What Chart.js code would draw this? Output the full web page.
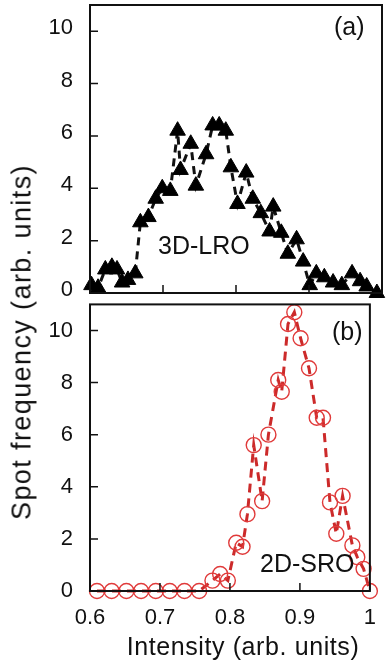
<!DOCTYPE html>
<html>
<head>
<meta charset="utf-8">
<script src="https://cdn.jsdelivr.net/npm/chart.js@4"></script>
<style>
  body { margin: 0; background: #fff; }
  #wrap { position: relative; width: 390px; height: 661px; font-family: "Liberation Sans", Arial, sans-serif; color: #111; }
  canvas { position: absolute; left: 0; }
  .lbl { position: absolute; font-size: 25px; white-space: nowrap; line-height: 1; }
  #ytitle { position: absolute; left: 22px; top: 342px; font-size: 27px; letter-spacing: 1.4px; white-space: nowrap;
            line-height: 1; transform: translate(-50%, -50%) rotate(-90deg); }
  #xtitle { position: absolute; left: 243px; top: 634px; font-size: 25px; letter-spacing: 0.6px; white-space: nowrap;
            line-height: 1; transform: translateX(-50%); }
</style>
</head>
<body>
<div id="wrap">
  <canvas id="chartA" width="390" height="300" style="top:0"></canvas>
  <canvas id="chartB" width="390" height="361" style="top:300px"></canvas>
  <div id="ytitle">Spot frequency (arb. units)</div>
  <div id="xtitle">Intensity (arb. units)</div>
  <div class="lbl" style="left:334px; top:14px;">(a)</div>
  <div class="lbl" style="left:158px; top:233px;">3D-LRO</div>
  <div class="lbl" style="left:332px; top:319px;">(b)</div>
  <div class="lbl" style="left:260px; top:551px;">2D-SRO</div>
</div>
<script>
// panel (a) 3D-LRO, black triangles
const lroX = [0.602, 0.611, 0.621, 0.630, 0.637, 0.644, 0.652, 0.662, 0.669, 0.680, 0.690, 0.699, 0.710, 0.720,
  0.724, 0.738, 0.745, 0.759, 0.768, 0.777, 0.786, 0.793, 0.802, 0.814, 0.823, 0.834, 0.846, 0.851, 0.862,
  0.871, 0.883, 0.892, 0.901, 0.910, 0.921, 0.933, 0.945, 0.959, 0.970, 0.979, 0.993];
const lroY = [0.3, 0.2, 0.9, 1.0, 0.9, 0.4, 0.5, 0.75, 2.7, 2.9, 3.6, 4.0, 3.9, 6.2,
  4.7, 5.7, 4.1, 5.3, 6.4, 6.4, 6.2, 4.8, 3.4, 4.6, 3.6, 3.05, 2.35, 3.3, 2.3,
  1.5, 2.05, 1.2, 0.3, 0.75, 0.6, 0.4, 0.3, 0.75, 0.45, 0.25, 0.0];

// panel (b) 2D-SRO, red open circles
const sroX = [0.610, 0.631, 0.652, 0.673, 0.694, 0.714, 0.735, 0.756, 0.775, 0.786, 0.797, 0.809, 0.818,
  0.825, 0.834, 0.846, 0.855, 0.869, 0.874, 0.883, 0.892, 0.901, 0.913, 0.924, 0.933, 0.943, 0.952,
  0.961, 0.975, 0.982, 0.991, 1.0];
const sroY = [0, 0, 0, 0, 0, 0, 0, 0, 0.4, 0.65, 0.4, 1.85, 1.7,
  2.95, 5.6, 3.45, 6.0, 8.1, 7.65, 10.25, 10.7, 9.7, 8.55, 6.65, 6.65, 3.4, 2.2,
  3.65, 1.75, 1.3, 0.85, 0];

const xTicks = [0.6, 0.7, 0.8, 0.9, 1.0];
const xTickLabels = ['0.6', '0.7', '0.8', '0.9', '1'];
const yTicks = [0, 2, 4, 6, 8, 10];

const FONT = "'Liberation Sans', Arial, sans-serif";

function toPoints(xs, ys) {
  return xs.map((x, i) => ({ x: x, y: ys[i] }));
}

// box frame + short inward tick marks
const framePlugin = {
  id: 'frame',
  afterDraw(chart) {
    const { ctx, chartArea: a, scales } = chart;
    ctx.save();
    ctx.strokeStyle = '#111';
    ctx.lineWidth = 2;
    ctx.strokeRect(a.left, a.top, a.right - a.left, a.bottom - a.top);
    ctx.lineWidth = 1.5;
    ctx.beginPath();
    yTicks.forEach(v => {
      const y = scales.y.getPixelForValue(v);
      ctx.moveTo(a.left, y);
      ctx.lineTo(a.left + 8, y);
    });
    xTicks.forEach(v => {
      const x = scales.x.getPixelForValue(v);
      ctx.moveTo(x, a.bottom);
      ctx.lineTo(x, a.bottom - 8);
    });
    ctx.stroke();
    ctx.restore();
  }
};

function makeOptions(showX, padTop, xHeight, yLabelShift) {
  return {
    responsive: false,
    animation: false,
    layout: { autoPadding: false, padding: { top: padTop, right: 8, left: 0, bottom: 0 } },
    plugins: { legend: { display: false }, tooltip: { enabled: false } },
    scales: {
      x: {
        type: 'linear',
        min: 0.6,
        max: 1.0,
        afterBuildTicks: s => { s.ticks = xTicks.map(v => ({ value: v })); },
        afterFit: s => { s.height = xHeight; },
        border: { display: false },
        grid: { display: false, drawTicks: false },
        ticks: {
          display: showX,
          padding: 14,
          color: '#111',
          font: { family: FONT, size: 22 },
          callback: (v) => xTickLabels[xTicks.indexOf(Math.round(v * 10) / 10)]
        }
      },
      y: {
        min: 0,
        max: 11,
        afterBuildTicks: s => { s.ticks = yTicks.map(v => ({ value: v })); },
        afterFit: s => { s.width = 90; },
        border: { display: false },
        grid: { display: false, drawTicks: true, tickLength: 17 },
        ticks: { padding: 0, labelOffset: yLabelShift, color: '#111', font: { family: FONT, size: 22, lineHeight: 0.4 } }
      }
    }
  };
}

new Chart(document.getElementById('chartA'), {
  type: 'line',
  data: {
    datasets: [{
      data: toPoints(lroX, lroY),
      borderColor: '#111',
      borderWidth: 3,
      borderDash: [8, 6],
      pointStyle: 'triangle',
      pointRadius: 9,
      pointBackgroundColor: '#000',
      pointBorderColor: '#000',
      pointBorderWidth: 1,
      tension: 0,
      clip: false
    }]
  },
  options: makeOptions(false, 5, 7, -3),
  plugins: [framePlugin]
});

new Chart(document.getElementById('chartB'), {
  type: 'line',
  data: {
    datasets: [{
      data: toPoints(sroX, sroY),
      borderColor: '#cc2a2a',
      borderWidth: 3,
      borderDash: [9, 6],
      pointStyle: 'circle',
      pointRadius: 7.5,
      pointBackgroundColor: 'rgba(0,0,0,0)',
      pointBorderColor: '#e03a3a',
      pointBorderWidth: 1.4,
      tension: 0,
      clip: false
    }]
  },
  options: makeOptions(true, 2, 70, 0),
  plugins: [framePlugin]
});
</script>
</body>
</html>
